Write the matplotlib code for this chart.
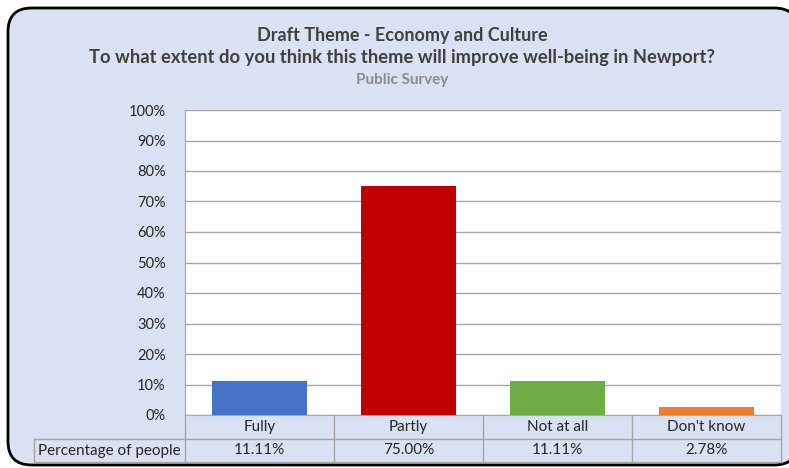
import matplotlib
matplotlib.use('Agg')
import matplotlib.pyplot as plt
from matplotlib.lines import Line2D
from matplotlib.patches import FancyBboxPatch
from matplotlib.ticker import FuncFormatter

categories = ["Fully", "Partly", "Not at all", "Don't know"]
values = [11.11, 75.00, 11.11, 2.78]
colors = ['#4472C4', '#C00000', '#70AD47', '#ED7D31']
row_label = "Percentage of people"
title_lines = ["Draft Theme - Economy and Culture",
               "To what extent do you think this theme will improve well-being in Newport?"]
subtitle = "Public Survey"

W, H = 789, 468
BG = '#D9E2F3'
GRID = '#A6A6A6'
TXT = '#262626'
plt.rcParams['font.family'] = ['Lato', 'DejaVu Sans']

fig = plt.figure(figsize=(W / 100, H / 100), dpi=100)
fig.patch.set_facecolor('white')

# rounded chart frame (right side cut off like the original)
frame = FancyBboxPatch((8 / W, 3 / H), 790 / W, 457 / H,
                       boxstyle='round,pad=0,rounding_size=0.03',
                       transform=fig.transFigure, facecolor=BG,
                       edgecolor='black', linewidth=2, mutation_aspect=W / H,
                       zorder=-5)
fig.add_artist(frame)

# plot area in pixels
L, R, T, B = 185, 781, 110, 415
ax = fig.add_axes([L / W, 1 - B / H, (R - L) / W, (B - T) / H])
ax.set_facecolor('white')
x = range(len(categories))
ax.bar(x, values, width=0.64, color=colors, zorder=3)
ax.set_xlim(-0.5, len(categories) - 0.5)
ax.set_ylim(0, 100)
ax.set_yticks(range(0, 101, 10))
ax.yaxis.set_major_formatter(FuncFormatter(lambda v, p: f"{v:.0f}%"))
ax.tick_params(axis='y', length=0, labelsize=10.5, pad=14, colors=TXT)
ax.set_xticks([])
ax.grid(axis='y', color=GRID, linewidth=1, zorder=0)
for s in ['top', 'right']:
    ax.spines[s].set_visible(False)
ax.spines['left'].set_color(GRID)
ax.spines['bottom'].set_color(GRID)

# data table under the axis
col_w = (R - L) / len(categories)
r1, r2, r3 = B, 439, 462
tleft = 34

def hline(y, x0, x1):
    fig.add_artist(Line2D([x0 / W, x1 / W], [1 - y / H, 1 - y / H],
                          color=GRID, linewidth=1, transform=fig.transFigure))

def vline(x0, y0, y1):
    fig.add_artist(Line2D([x0 / W, x0 / W], [1 - y0 / H, 1 - y1 / H],
                          color=GRID, linewidth=1, transform=fig.transFigure))

hline(r2, tleft, R)
hline(r3, tleft, R)
vline(tleft, r2, r3)
for i in range(len(categories) + 1):
    vline(L + i * col_w, r1, r3)

for i, (c, v) in enumerate(zip(categories, values)):
    cx = (L + (i + 0.5) * col_w) / W
    fig.text(cx, 1 - (r1 + r2) / 2 / H, c, ha='center', va='center',
             fontsize=11, color=TXT)
    fig.text(cx, 1 - (r2 + r3) / 2 / H, f"{v:.2f}%", ha='center', va='center',
             fontsize=11, color=TXT)
fig.text((tleft + L) / 2 / W, 1 - (r2 + r3) / 2 / H, row_label, ha='center',
         va='center', fontsize=11, color=TXT)

# titles
cx_title = 402 / W
fig.text(cx_title, 1 - 36 / H, title_lines[0], ha='center', va='center',
         fontsize=13, fontweight='bold', color='#404040')
fig.text(cx_title, 1 - 58 / H, title_lines[1], ha='center', va='center',
         fontsize=13.2, fontweight='bold', color='#404040')
fig.text(cx_title, 1 - 80 / H, subtitle, ha='center', va='center',
         fontsize=11, fontweight='bold', color='#8C8C8C')

fig.savefig('out.png', dpi=100)
